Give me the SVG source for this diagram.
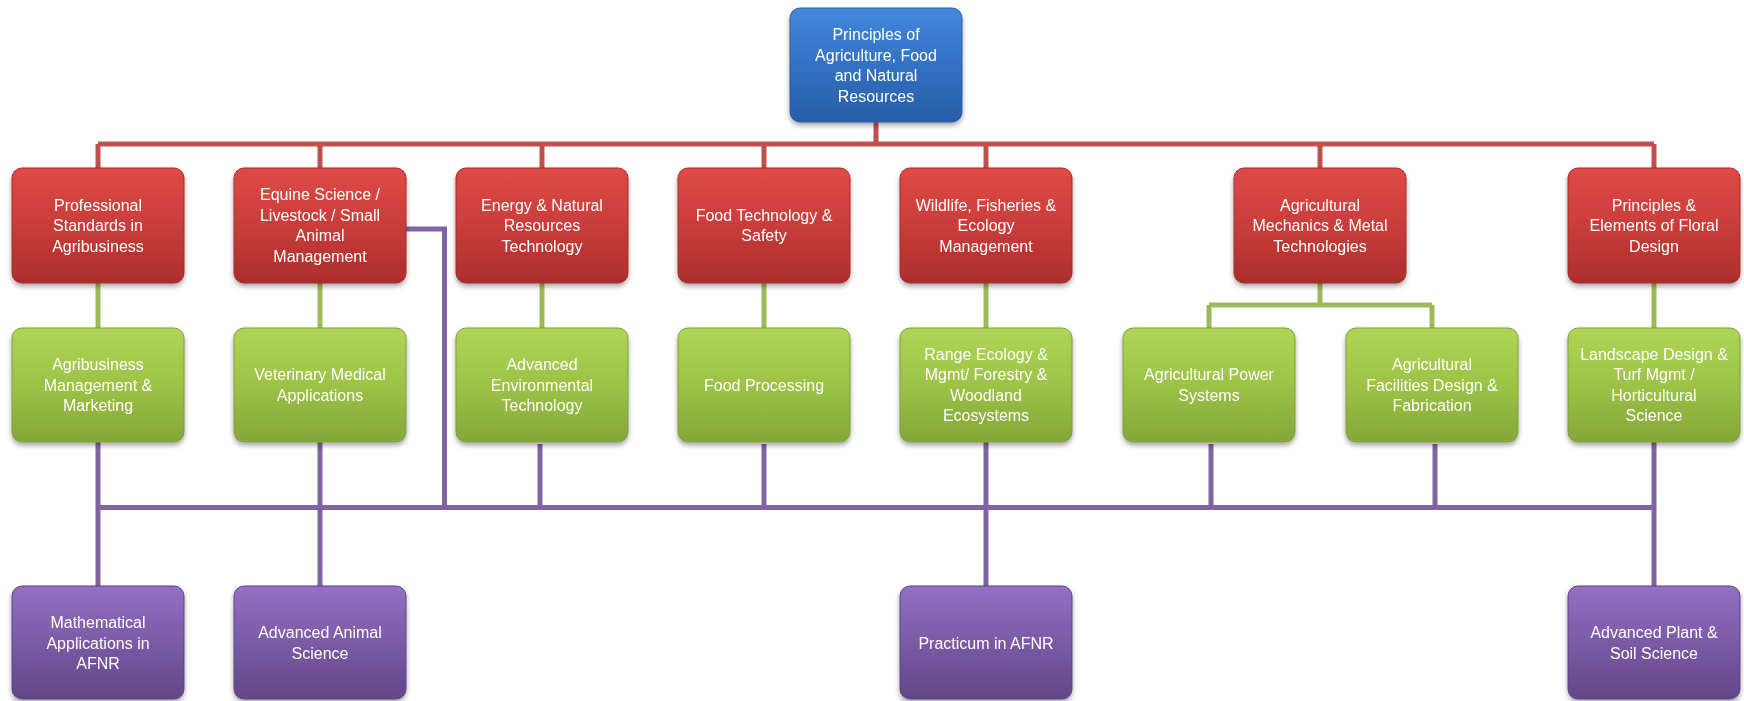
<svg xmlns="http://www.w3.org/2000/svg" width="1744" height="701" viewBox="0 0 1744 701">
<defs>
<linearGradient id="gBlue" x1="0" y1="0" x2="0" y2="1"><stop offset="0" stop-color="#4189db"/><stop offset="0.5" stop-color="#3371c4"/><stop offset="1" stop-color="#285da6"/></linearGradient>
<linearGradient id="gRed" x1="0" y1="0" x2="0" y2="1"><stop offset="0" stop-color="#e04a47"/><stop offset="0.5" stop-color="#c93d3a"/><stop offset="1" stop-color="#ab2e2b"/></linearGradient>
<linearGradient id="gGreen" x1="0" y1="0" x2="0" y2="1"><stop offset="0" stop-color="#afd656"/><stop offset="0.5" stop-color="#9cc345"/><stop offset="1" stop-color="#84a63a"/></linearGradient>
<linearGradient id="gPurple" x1="0" y1="0" x2="0" y2="1"><stop offset="0" stop-color="#9470c2"/><stop offset="0.5" stop-color="#7b5aa6"/><stop offset="1" stop-color="#634588"/></linearGradient>
<filter id="sh" x="-10%" y="-10%" width="120%" height="130%"><feDropShadow dx="0" dy="3" stdDeviation="2.5" flood-color="#000" flood-opacity="0.35"/></filter>
</defs>
<style>
.n{filter:url(#sh);}
.b{fill:url(#gBlue);stroke:#2a5d9e;stroke-width:1;}
.r{fill:url(#gRed);stroke:#a52c2a;stroke-width:1;}
.g{fill:url(#gGreen);stroke:#7f9f38;stroke-width:1;}
.p{fill:url(#gPurple);stroke:#5f4285;stroke-width:1;}
text{font-family:"Liberation Sans",Arial,sans-serif;font-size:16px;fill:#ffffff;text-anchor:middle;}
.cr{stroke:#c0504d;stroke-width:5;fill:none;}
.cg{stroke:#9bbb59;stroke-width:5;fill:none;}
.cp{stroke:#8064a2;stroke-width:5;fill:none;}
</style>
<g id="connectors">
<path class="cr" d="M876 122V144M98 144H1654M98 144V168M320 144V168M542 144V168M764 144V168M986 144V168M1320 144V168M1654 144V168"/>
<path class="cg" d="M98 283V328M320 283V328M542 283V328M764 283V328M986 283V328M1654 283V328M1320 283V305M1209 305H1432M1209 305V328M1432 305V328"/>
<path class="cp" d="M98 507.5H1654M98 442V586M320 442V586M986 442V586M1654 442V586M406 229H444.5V507.5M540 444V507.5M764 444V507.5M1211 444V507.5M1435 444V507.5"/>
</g>
<g id="n-root" class="n"><rect class="b" x="790" y="8" width="172" height="114" rx="10"/>
<text x="876" y="40">Principles of</text><text x="876" y="60.5">Agriculture, Food</text><text x="876" y="81">and Natural</text><text x="876" y="101.5">Resources</text></g>
<g id="n-prof" class="n"><rect class="r" x="12" y="168" width="172" height="115" rx="10"/>
<text x="98" y="210.5">Professional</text><text x="98" y="231">Standards in</text><text x="98" y="251.5">Agribusiness</text></g>
<g id="n-equine" class="n"><rect class="r" x="234" y="168" width="172" height="115" rx="10"/>
<text x="320" y="200">Equine Science /</text><text x="320" y="220.5">Livestock / Small</text><text x="320" y="241">Animal</text><text x="320" y="261.5">Management</text></g>
<g id="n-energy" class="n"><rect class="r" x="456" y="168" width="172" height="115" rx="10"/>
<text x="542" y="210.5">Energy &amp; Natural</text><text x="542" y="231">Resources</text><text x="542" y="251.5">Technology</text></g>
<g id="n-foodtech" class="n"><rect class="r" x="678" y="168" width="172" height="115" rx="10"/>
<text x="764" y="220.5">Food Technology &amp;</text><text x="764" y="241">Safety</text></g>
<g id="n-wildlife" class="n"><rect class="r" x="900" y="168" width="172" height="115" rx="10"/>
<text x="986" y="210.5">Wildlife, Fisheries &amp;</text><text x="986" y="231">Ecology</text><text x="986" y="251.5">Management</text></g>
<g id="n-mech" class="n"><rect class="r" x="1234" y="168" width="172" height="115" rx="10"/>
<text x="1320" y="210.5">Agricultural</text><text x="1320" y="231">Mechanics &amp; Metal</text><text x="1320" y="251.5">Technologies</text></g>
<g id="n-floral" class="n"><rect class="r" x="1568" y="168" width="172" height="115" rx="10"/>
<text x="1654" y="210.5">Principles &amp;</text><text x="1654" y="231">Elements of Floral</text><text x="1654" y="251.5">Design</text></g>
<g id="n-agbiz" class="n"><rect class="g" x="12" y="328" width="172" height="114" rx="10"/>
<text x="98" y="370">Agribusiness</text><text x="98" y="390.5">Management &amp;</text><text x="98" y="411">Marketing</text></g>
<g id="n-vet" class="n"><rect class="g" x="234" y="328" width="172" height="114" rx="10"/>
<text x="320" y="380">Veterinary Medical</text><text x="320" y="400.5">Applications</text></g>
<g id="n-advenv" class="n"><rect class="g" x="456" y="328" width="172" height="114" rx="10"/>
<text x="542" y="370">Advanced</text><text x="542" y="390.5">Environmental</text><text x="542" y="411">Technology</text></g>
<g id="n-foodproc" class="n"><rect class="g" x="678" y="328" width="172" height="114" rx="10"/>
<text x="764" y="390.5">Food Processing</text></g>
<g id="n-range" class="n"><rect class="g" x="900" y="328" width="172" height="114" rx="10"/>
<text x="986" y="359.5">Range Ecology &amp;</text><text x="986" y="380">Mgmt/ Forestry &amp;</text><text x="986" y="400.5">Woodland</text><text x="986" y="421">Ecosystems</text></g>
<g id="n-power" class="n"><rect class="g" x="1123" y="328" width="172" height="114" rx="10"/>
<text x="1209" y="380">Agricultural Power</text><text x="1209" y="400.5">Systems</text></g>
<g id="n-facilities" class="n"><rect class="g" x="1346" y="328" width="172" height="114" rx="10"/>
<text x="1432" y="370">Agricultural</text><text x="1432" y="390.5">Facilities Design &amp;</text><text x="1432" y="411">Fabrication</text></g>
<g id="n-landscape" class="n"><rect class="g" x="1568" y="328" width="172" height="114" rx="10"/>
<text x="1654" y="359.5">Landscape Design &amp;</text><text x="1654" y="380">Turf Mgmt /</text><text x="1654" y="400.5">Horticultural</text><text x="1654" y="421">Science</text></g>
<g id="n-math" class="n"><rect class="p" x="12" y="586" width="172" height="113" rx="10"/>
<text x="98" y="628">Mathematical</text><text x="98" y="648.5">Applications in</text><text x="98" y="669">AFNR</text></g>
<g id="n-animal" class="n"><rect class="p" x="234" y="586" width="172" height="113" rx="10"/>
<text x="320" y="638">Advanced Animal</text><text x="320" y="658.5">Science</text></g>
<g id="n-practicum" class="n"><rect class="p" x="900" y="586" width="172" height="113" rx="10"/>
<text x="986" y="648.5">Practicum in AFNR</text></g>
<g id="n-plant" class="n"><rect class="p" x="1568" y="586" width="172" height="113" rx="10"/>
<text x="1654" y="638">Advanced Plant &amp;</text><text x="1654" y="658.5">Soil Science</text></g>
</svg>
